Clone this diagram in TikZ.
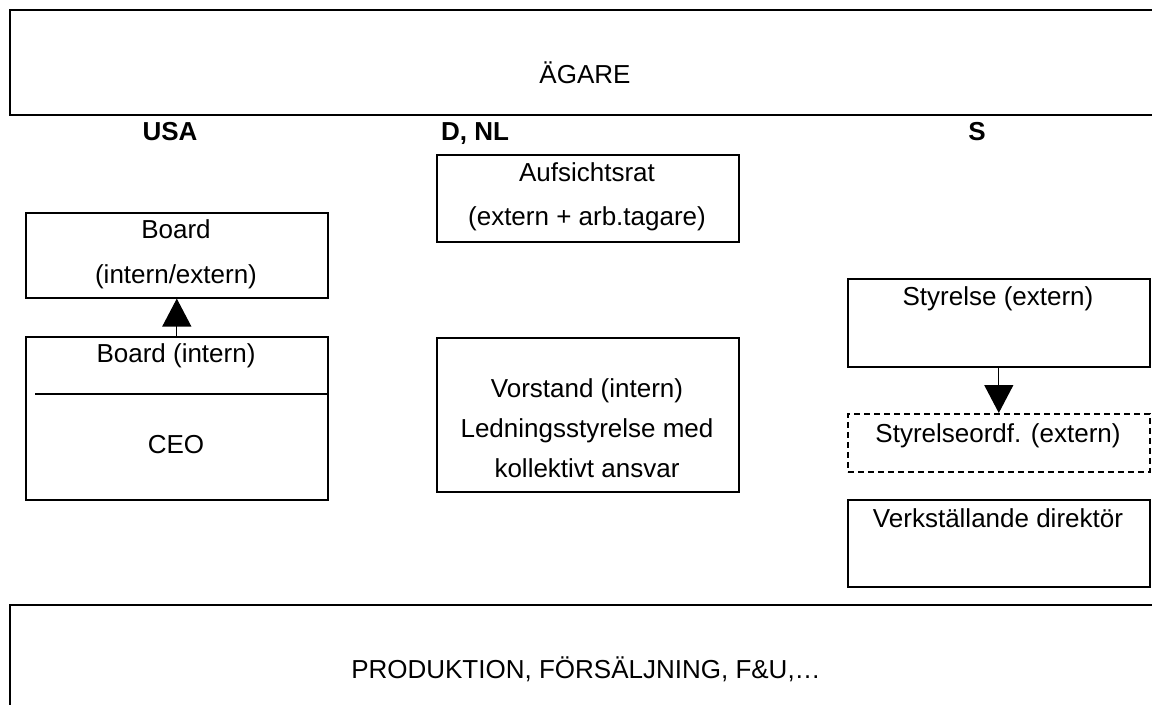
\documentclass[tikz,border=0pt]{standalone}
\usepackage{fontspec}
\setmainfont{Liberation Sans}
\usepackage{tikz}
\usetikzlibrary{arrows.meta, positioning}

\tikzset{
  unit/.style={draw, line width=1.6pt, inner sep=0pt, minimum width=302pt, anchor=north west},
  lbl/.style={font=\fontsize{26}{30}\selectfont, anchor=base, inner sep=0pt},
  head/.style={lbl, font=\fontsize{26}{30}\selectfont\bfseries},
  tip/.style={-{Triangle[width=29pt,length=28pt]}, line width=1.3pt}
}

\begin{document}
\begin{tikzpicture}[x=1pt, y=-1pt]
  \useasboundingbox (0,0) rectangle (1152,705);
  % Owners and operations
  \draw[line width=2pt] (1152,10) -- (10,10) -- (10,115) -- (1152,115);
  \node[lbl] (owner) at (585,83) {ÄGARE};
  \draw[line width=2pt] (1152,605) -- (10,605) -- (10,705);
  \node[lbl] (ops) at (586,678) {PRODUKTION, FÖRSÄLJNING, F\&U,…};
  % Country headings
  \node[head] (usa) at (170,140) {USA};
  \node[head] (dnl) at (475,140) {D, NL};
  \node[head] (swe) at (977,140) {S};

  % USA panel
  \begin{scope}
    \node[unit, minimum height=85pt] (board) at (25,212) {};
    \node[lbl] (board-a) at (176,238) {Board};
    \node[lbl] (board-b) at (176,283) {(intern/extern)};
    \node[unit, minimum height=163pt] (exec) at (25,336) {};
    \node[lbl] (exec-a) at (176,362) {Board (intern)};
    \coordinate (cut) at (35,394);
    \draw[line width=1.6pt] (cut) -- (cut -| exec.east);
    \node[lbl] (ceo) at (176,453) {CEO};
    \draw[tip] (exec.north) -- (board.south);
  \end{scope}

  % D, NL panel
  \begin{scope}
    \node[unit, minimum height=87pt] (ar) at (436,154) {};
    \node[lbl] (ar-a) at (587,181) {Aufsichtsrat};
    \node[lbl] (ar-b) at (587,225) {(extern + arb.tagare)};
    \node[unit, minimum height=154pt] (vs) at (436,337) {};
    \node[lbl] (vs-a) at (587,397) {Vorstand (intern)};
    \node[lbl] (vs-b) at (587,437) {Ledningsstyrelse med};
    \node[lbl] (vs-c) at (587,477) {kollektivt ansvar};
  \end{scope}

  % S panel
  \begin{scope}
    \node[unit, minimum height=88pt] (sty) at (847,278) {};
    \node[lbl] (sty-a) at (998,305) {Styrelse (extern)};
    \node[unit, minimum height=58pt, dash pattern=on 6pt off 4pt] (ordf) at (847,413) {};
    \node[lbl] (ordf-a) at (998,442) {Styrelseordf. (extern)};
    \node[unit, minimum height=87pt] (vd) at (847,499) {};
    \node[lbl] (vd-a) at (998,527) {Verkställande direktör};
    \draw[tip] (sty.south) -- (ordf.north);
  \end{scope}
\end{tikzpicture}
\end{document}
